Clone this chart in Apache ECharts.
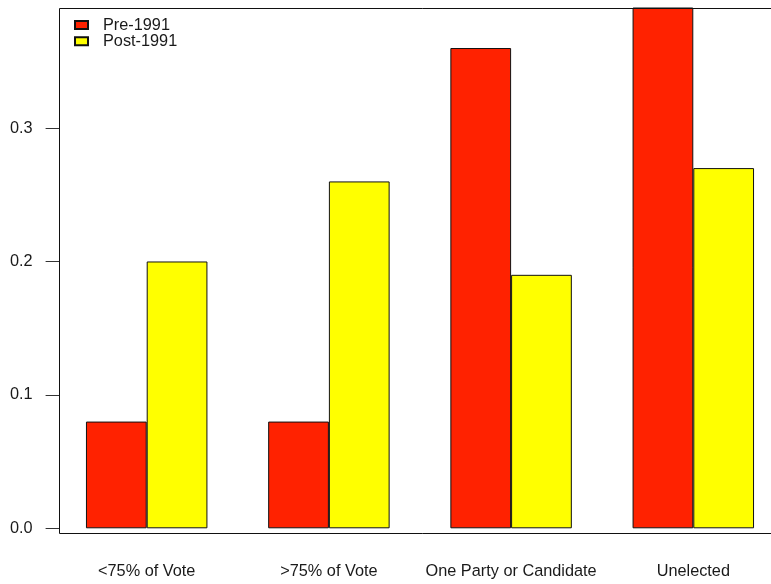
<!DOCTYPE html>
<html>
<head>
<meta charset="utf-8">
<script src="https://cdn.jsdelivr.net/npm/echarts@6/dist/echarts.min.js"></script>
<style>
  html, body { margin: 0; padding: 0; background: #fff; overflow: hidden; }
  /* the plot frame runs a little past the right edge of the window */
  #chart { width: 785px; height: 584px; }
</style>
</head>
<body>
<div id="chart"></div>
<script>
// Share of leadership transitions by type, before and after 1991
const categories = ['<75% of Vote', '>75% of Vote', 'One Party or Candidate', 'Unelected'];
const pre1991 = [0.08, 0.08, 0.36, 0.40];
const post1991 = [0.20, 0.26, 0.19, 0.27];
const yTicks = [0.0, 0.1, 0.2, 0.3];

const FONT = 'Liberation Sans, Arial, Helvetica, sans-serif';
const TEXT = '#1a1a1a';

const chart = echarts.init(document.getElementById('chart'), null, { renderer: 'canvas' });

chart.setOption({
  animation: false,
  backgroundColor: '#ffffff',
  textStyle: { fontFamily: FONT },
  grid: { left: 55.6, right: 0.6, top: 8, bottom: 55.7 },
  legend: {
    orient: 'vertical',
    left: 74,
    top: 17,
    padding: 0,
    itemWidth: 13,
    itemHeight: 8,
    itemGap: 0,
    icon: 'rect',
    selectedMode: false,
    textStyle: { fontFamily: FONT, fontSize: 16.3, color: TEXT, lineHeight: 16.2, padding: [0, 0, 0, 10] },
    data: ['Pre-1991', 'Post-1991']
  },
  xAxis: {
    type: 'category',
    data: categories,
    axisLine: { show: false },
    axisTick: { show: false },
    axisLabel: { margin: 35, fontSize: 16.3, color: TEXT, fontFamily: FONT, interval: 0 }
  },
  yAxis: {
    type: 'value',
    min: 0,
    max: 0.39,
    interval: 0.1,
    offset: -4,
    splitLine: { show: false },
    axisLine: { show: false },
    axisTick: { show: true, length: 14, customValues: yTicks, lineStyle: { color: '#333', width: 1 } },
    axisLabel: {
      margin: 27,
      fontSize: 16.3,
      color: TEXT,
      fontFamily: FONT,
      customValues: yTicks,
      formatter: v => v.toFixed(1)
    }
  },
  series: [
    {
      name: 'Pre-1991',
      type: 'bar',
      data: pre1991,
      barGap: '0%',
      barCategoryGap: '33.33%',
      itemStyle: { color: '#ff2200', borderColor: '#111', borderWidth: 1 }
    },
    {
      name: 'Post-1991',
      type: 'bar',
      data: post1991,
      itemStyle: { color: '#ffff00', borderColor: '#111', borderWidth: 1 }
    }
  ],
  graphic: [
    {
      type: 'rect',
      silent: true,
      z: 10,
      shape: { x: 59.5, y: 8.5, width: 760, height: 525 },
      style: { fill: 'none', stroke: '#111', lineWidth: 1 }
    }
  ]
});
</script>
</body>
</html>
